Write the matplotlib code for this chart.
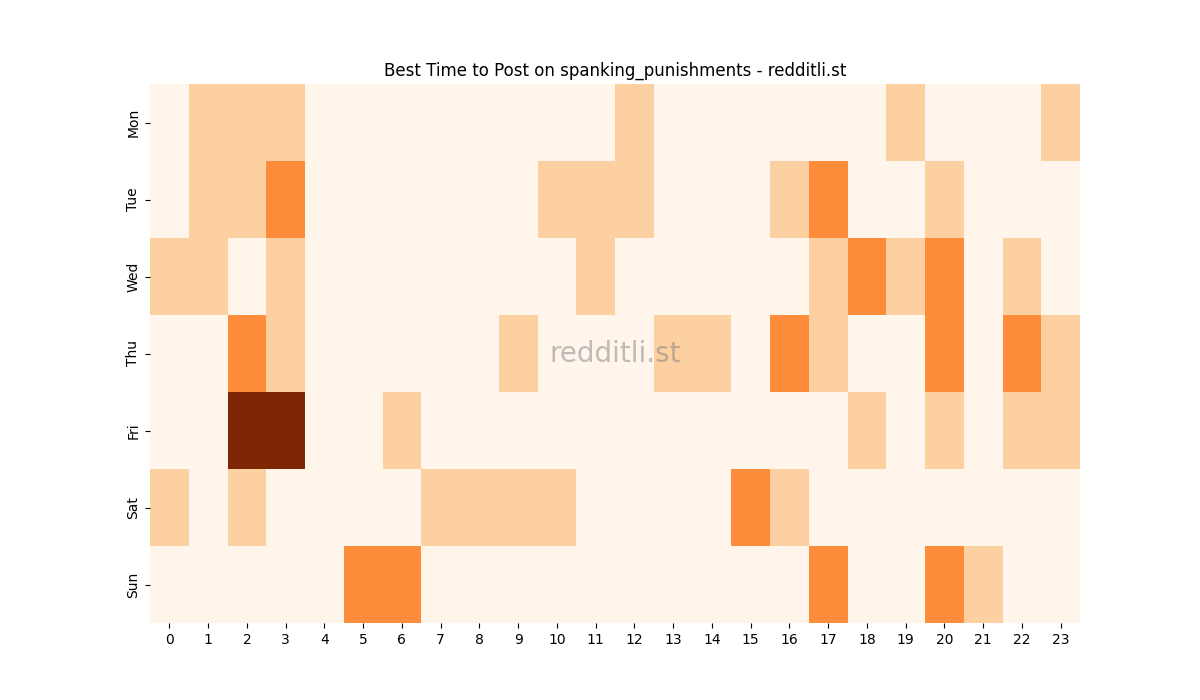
import matplotlib
matplotlib.use("Agg")
import matplotlib.pyplot as plt
import numpy as np
import seaborn as sns

days = ["Mon", "Tue", "Wed", "Thu", "Fri", "Sat", "Sun"]
hours = list(range(24))

mon = [0, 1, 1, 1, 0, 0, 0, 0, 0, 0, 0, 0, 1, 0, 0, 0, 0, 0, 0, 1, 0, 0, 0, 1]
tue = [0, 1, 1, 2, 0, 0, 0, 0, 0, 0, 1, 1, 1, 0, 0, 0, 1, 2, 0, 0, 1, 0, 0, 0]
wed = [1, 1, 0, 1, 0, 0, 0, 0, 0, 0, 0, 1, 0, 0, 0, 0, 0, 1, 2, 1, 2, 0, 1, 0]
thu = [0, 0, 2, 1, 0, 0, 0, 0, 0, 1, 0, 0, 0, 1, 1, 0, 2, 1, 0, 0, 2, 0, 2, 1]
fri = [0, 0, 4, 4, 0, 0, 1, 0, 0, 0, 0, 0, 0, 0, 0, 0, 0, 0, 1, 0, 1, 0, 1, 1]
sat = [1, 0, 1, 0, 0, 0, 0, 1, 1, 1, 1, 0, 0, 0, 0, 2, 1, 0, 0, 0, 0, 0, 0, 0]
sun = [0, 0, 0, 0, 0, 2, 2, 0, 0, 0, 0, 0, 0, 0, 0, 0, 0, 2, 0, 0, 2, 1, 0, 0]

counts = np.array([mon, tue, wed, thu, fri, sat, sun])

fig, ax = plt.subplots(figsize=(12, 7), dpi=100)
sns.heatmap(counts, cmap="Oranges", cbar=False, ax=ax,
            xticklabels=hours, yticklabels=days)
ax.set_title("Best Time to Post on spanking_punishments - redditli.st")
plt.setp(ax.get_yticklabels(), rotation=90, va="center")
plt.setp(ax.get_xticklabels(), rotation=0)
ax.text(0.5, 0.5, "redditli.st", transform=ax.transAxes, ha="center", va="center",
        fontsize=20, color="gray", alpha=0.5)
fig.savefig("out.png")
